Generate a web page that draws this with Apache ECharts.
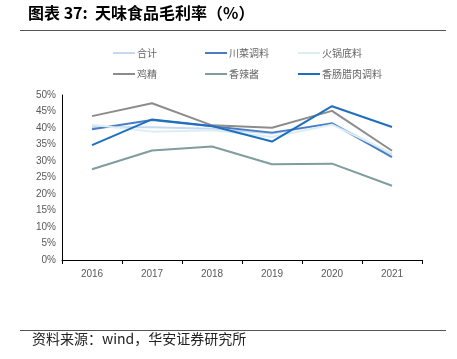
<!DOCTYPE html>
<html><head><meta charset="utf-8">
<script src="https://cdn.jsdelivr.net/npm/echarts@6/dist/echarts.min.js"></script>
<style>html,body{margin:0;padding:0;background:#fff}#c{width:457px;height:359px}</style>
</head><body><div id="c"></div>
<script>
const years = ['2016','2017','2018','2019','2020','2021'];
const total = [40.3, 40.2, 39.8, 38.3, 41.5, 32.0];
const sichuan = [39.6, 42.4, 40.5, 38.6, 41.4, 31.2];
const hotpot = [41.0, 38.9, 39.3, 37.3, 41.0, 32.3];
const chicken = [43.6, 47.5, 40.8, 40.1, 45.2, 33.1];
const chili = [27.5, 33.2, 34.4, 29.0, 29.2, 22.5];
const sausage = [34.8, 42.6, 40.6, 35.9, 46.6, 40.3];
const yTicks = [0, 5, 10, 15, 20, 25, 30, 35, 40, 45, 50];

const names = ['合计','川菜调料','火锅底料','鸡精','香辣酱','香肠腊肉调料'];
const colors = ['#C6D9F1','#4A7CC4','#DCEEF3','#8C8C8C','#7F9C9F','#1F6FBF'];
const datas = [total, sichuan, hotpot, chicken, chili, sausage];
const legendPos = [[108,43],[200,43],[293,43],[108,64],[200,64],[293,64]];

const chart = echarts.init(document.getElementById('c'));
chart.setOption({
  animation:false,
  backgroundColor:'#fff',
  textStyle:{fontFamily:'"Noto Sans CJK SC", sans-serif'},
  legend: names.map((n,i)=>({
    data:[n], left:legendPos[i][0], top:legendPos[i][1],
    itemWidth:22, itemHeight:10, itemGap:2,
    icon:'path://M0,4L22,4L22,6L0,6Z',
    textStyle:{fontSize:10, color:'#666', padding:[0,0,0,-3]}
  })),
  grid:{left:62, right:35, top:95, bottom:99},
  xAxis:{type:'category', data:years, boundaryGap:true,
    axisLine:{lineStyle:{color:'#000', width:1}},
    axisTick:{show:true, alignWithLabel:false, length:4, lineStyle:{color:'#000'}},
    axisLabel:{color:'#595959', fontSize:10, margin:9, fontFamily:'"Liberation Sans", Arial'}},
  yAxis:{type:'value', min:0, max:50, interval:5,
    axisLine:{show:true, lineStyle:{color:'#000'}},
    axisTick:{show:false},
    splitLine:{show:false},
    axisLabel:{color:'#595959', fontSize:10, margin:6, fontFamily:'"Liberation Sans", Arial',
      formatter:v=> yTicks.includes(v) ? v+'%' : ''}},
  series: names.map((n,i)=>({
    name:n, type:'line', data:datas[i], symbol:'none',
    lineStyle:{color:colors[i], width:2}, itemStyle:{color:colors[i]}
  })),
  graphic:[
    {type:'text', left:28, top:5, style:{text:'图表 37:  天味食品毛利率（%）', font:'bold 16px "Noto Sans CJK SC", sans-serif', fill:'#000'}},
    {type:'line', shape:{x1:20,y1:30.5,x2:446,y2:30.5}, style:{stroke:'#555', lineWidth:1}},
    {type:'line', shape:{x1:20,y1:330.5,x2:446,y2:330.5}, style:{stroke:'#555', lineWidth:1}},
    {type:'text', left:32, top:332, style:{text:'资料来源：wind，华安证券研究所', font:'14px "Noto Sans CJK SC", sans-serif', fill:'#222'}}
  ]
});
</script></body></html>
